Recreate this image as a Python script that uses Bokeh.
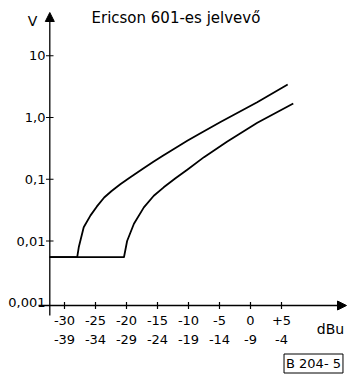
from math import log10
from bokeh.plotting import figure
from bokeh.models import Label, Arrow, NormalHead, Range1d
from bokeh.core.properties import value
from bokeh.embed import file_html
from bokeh.resources import INLINE

# --- data ---
dbu_1 = [-32.4, -27.95, -27.7, -26.9, -25.8, -24.8, -23.6, -22.4, -21.0, -19.5, -17.3, -15.6, -14.2, -12.1, -10.2, -8.0, -4.84, 1.08, 6.0]
volt_1 = [0.0055, 0.0055, 0.0079, 0.0167, 0.026, 0.036, 0.0507, 0.0646, 0.083, 0.106, 0.149, 0.193, 0.238, 0.322, 0.419, 0.563, 0.844, 1.77, 3.42]

dbu_2 = [-32.4, -20.4, -19.9, -18.8, -17.2, -15.6, -14.0, -12.1, -10.2, -7.5, -3.8, 1.1, 6.9]
volt_2 = [0.0055, 0.0055, 0.01, 0.019, 0.035, 0.054, 0.074, 0.1035, 0.143, 0.228, 0.405, 0.82, 1.69]

x_ticks = [-30, -25, -20, -15, -10, -5, 0, 5]
x_labels_top = ["-30", "-25", "-20", "-15", "-10", "-5", "0", "+5"]
x_labels_bottom = ["-39", "-34", "-29", "-24", "-19", "-14", "-9", "-4"]
y_ticks = [0.001, 0.01, 0.1, 1, 10]
y_labels = ["0,001", "0,01", "0,1", "1,0", "10"]

# scale: 6.2 px per dB on x, 61.75 px per decade on y
W, H = 347, 374
PX_DB, PX_DEC = 6.2, 61.75
X0 = -30 - 64 / PX_DB
X1 = X0 + W / PX_DB
Y1 = 10 ** (117 / PX_DEC)
Y0 = 10 ** ((117 - H) / PX_DEC)
FONT = "DejaVu Sans"

p = figure(width=W, height=H, output_backend="svg", toolbar_location=None,
           y_axis_type="log", x_range=Range1d(X0, X1), y_range=Range1d(Y0, Y1),
           x_axis_location=None, y_axis_location=None,
           min_border=0, min_border_left=0, min_border_right=0,
           min_border_top=0, min_border_bottom=0)
p.grid.visible = False
p.outline_line_color = None
p.background_fill_color = "white"
p.border_fill_color = "white"

# helpers to place decorations by pixel position
def xp(px):
    return X0 + px / PX_DB

def yp(py):
    return 10 ** (log10(Y1) - py / PX_DEC)

XA = xp(49.3)   # position of the vertical axis
YA = yp(305)    # position of the horizontal axis

# axes with arrows
p.add_layout(Arrow(end=NormalHead(size=9, fill_color="black", line_color="black"),
                   x_start=XA, y_start=yp(315), x_end=XA, y_end=yp(12),
                   line_color="black", line_width=1.3))
p.add_layout(Arrow(end=NormalHead(size=9, fill_color="black", line_color="black"),
                   x_start=xp(38), y_start=YA, x_end=xp(346), y_end=YA,
                   line_color="black", line_width=1.3))

# ticks
yt = y_ticks[1:]
p.segment(x0=[xp(45.5)] * len(yt), y0=yt, x1=[xp(53)] * len(yt), y1=yt,
          line_color="black", line_width=1.2)
p.segment(x0=x_ticks, y0=[yp(301.5)] * len(x_ticks), x1=x_ticks, y1=[yp(308.5)] * len(x_ticks),
          line_color="black", line_width=1.2)

# tick labels
p.text(x=[xp(45)] * len(y_ticks), y=y_ticks, text=y_labels, text_font=value(FONT),
       text_font_size="13px", text_align="right", text_baseline="middle", text_color="black")
p.text(x=x_ticks, y=[yp(320)] * len(x_ticks), text=x_labels_top, text_font=value(FONT),
       text_font_size="13px", text_align="center", text_baseline="middle", text_color="black")
p.text(x=x_ticks, y=[yp(338.5)] * len(x_ticks), text=x_labels_bottom, text_font=value(FONT),
       text_font_size="13px", text_align="center", text_baseline="middle", text_color="black")

# curves
p.line(dbu_1, volt_1, line_color="black", line_width=1.8, line_join="round")
p.line(dbu_2, volt_2, line_color="black", line_width=1.8, line_join="round")

# texts
p.add_layout(Label(x=xp(91), y=yp(17), text="Ericson 601-es jelvevő", text_font=FONT,
                   text_font_size="15px", text_align="left", text_baseline="middle",
                   text_color="black"))
p.add_layout(Label(x=xp(32), y=yp(20), text="V", text_font=FONT, text_font_size="14px",
                   text_align="center", text_baseline="middle", text_color="black"))
p.add_layout(Label(x=xp(330), y=yp(328), text="dBu", text_font=FONT, text_font_size="14px",
                   text_align="center", text_baseline="middle", text_color="black"))
p.add_layout(Label(x=xp(313), y=yp(363), text="B 204- 5", text_font=FONT, text_font_size="13px",
                   text_align="center", text_baseline="middle", text_color="black",
                   border_line_color="black", border_line_width=1, padding=2,
                   background_fill_color="white"))

open("out.html", "w").write(file_html(p, INLINE))
